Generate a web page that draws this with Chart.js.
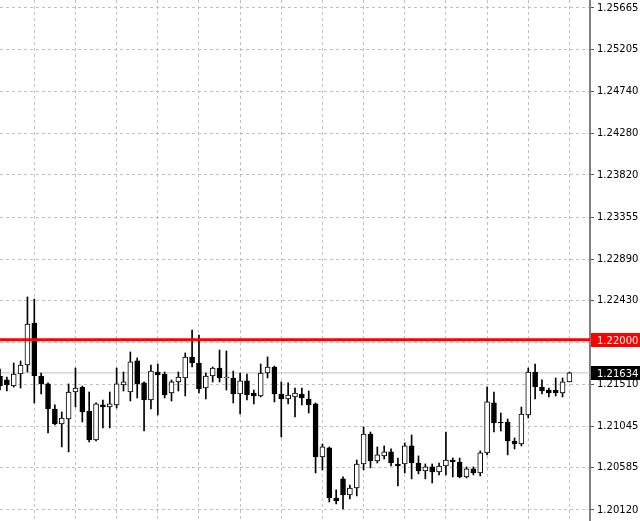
<!DOCTYPE html>
<html>
<head>
<meta charset="utf-8">
<script src="https://cdn.jsdelivr.net/npm/chart.js@4.4.0/dist/chart.umd.min.js"></script>
<style>
  html, body { margin: 0; padding: 0; background: #fff; }
  #wrap { width: 640px; height: 521px; }
</style>
</head>
<body>
<div id="wrap"><canvas id="chart" width="640" height="521"></canvas></div>
<script>
// candle data (oldest first)
const opens = [
  1.21600, 1.21556, 1.21489, 1.21622, 1.21721, 1.22185, 1.21600, 1.21512, 1.21235, 1.21070,
  1.21125, 1.21423, 1.21478, 1.21213, 1.20893, 1.21280, 1.21257, 1.21280, 1.21500, 1.21423,
  1.21766, 1.21523, 1.21335, 1.21644, 1.21622, 1.21412, 1.21534, 1.21578, 1.21810, 1.21743,
  1.21467, 1.21600, 1.21688, 1.21578, 1.21578, 1.21401, 1.21545, 1.21412, 1.21379, 1.21633,
  1.21699, 1.21401, 1.21346, 1.21368, 1.21401, 1.21346, 1.21291, 1.20705, 1.20805, 1.20252,
  1.20463, 1.20286, 1.20363, 1.20628, 1.20959, 1.20661, 1.20717, 1.20761, 1.20628, 1.20628,
  1.20827, 1.20639, 1.20551, 1.20595, 1.20540, 1.20606, 1.20672, 1.20650, 1.20485, 1.20573,
  1.20529, 1.20750, 1.21302, 1.21092, 1.21092, 1.20882, 1.20849, 1.21169, 1.21644, 1.21478,
  1.21445, 1.21445, 1.21412, 1.21534
];
const highs = [
  1.21677, 1.21589, 1.21743, 1.21766, 1.22473, 1.22450, 1.21633, 1.21523, 1.21280, 1.21202,
  1.21512, 1.21688, 1.21489, 1.21423, 1.21302, 1.21335, 1.21423, 1.21688, 1.21644, 1.21865,
  1.21799, 1.21534, 1.21721, 1.21732, 1.21644, 1.21556, 1.21644, 1.21854, 1.22108, 1.22053,
  1.21633, 1.21699, 1.21887, 1.21876, 1.21655, 1.21633, 1.21622, 1.21445, 1.21732, 1.21810,
  1.21710, 1.21534, 1.21523, 1.21467, 1.21467, 1.21434, 1.21302, 1.20849, 1.20816, 1.20341,
  1.20485, 1.20396, 1.20672, 1.21037, 1.20981, 1.20816, 1.20827, 1.20794, 1.20694, 1.20860,
  1.20948, 1.20717, 1.20628, 1.20628, 1.20639, 1.20981, 1.20694, 1.20694, 1.20595, 1.20595,
  1.20772, 1.21478, 1.21423, 1.21191, 1.21125, 1.20915, 1.21257, 1.21688, 1.21732, 1.21556,
  1.21467, 1.21578, 1.21578, 1.21644
];
const lows = [
  1.21445, 1.21434, 1.21478, 1.21467, 1.21644, 1.21302, 1.21401, 1.20970, 1.21059, 1.20816,
  1.20761, 1.21257, 1.21092, 1.20871, 1.20882, 1.21026, 1.21026, 1.21246, 1.21434, 1.21324,
  1.21357, 1.20992, 1.21235, 1.21169, 1.21357, 1.21324, 1.21434, 1.21379, 1.21699, 1.21412,
  1.21346, 1.21534, 1.21534, 1.21445, 1.21302, 1.21180, 1.21335, 1.21291, 1.21368, 1.21578,
  1.21313, 1.20926, 1.21291, 1.21147, 1.21280, 1.21191, 1.20529, 1.20562, 1.20208, 1.20186,
  1.20131, 1.20241, 1.20275, 1.20562, 1.20584, 1.20639, 1.20683, 1.20606, 1.20385, 1.20529,
  1.20463, 1.20518, 1.20463, 1.20418, 1.20507, 1.20507, 1.20485, 1.20474, 1.20474, 1.20507,
  1.20496, 1.20728, 1.20981, 1.20992, 1.20728, 1.20794, 1.20827, 1.21136, 1.21346, 1.21401,
  1.21368, 1.21379, 1.21368, 1.21534
];
const closes = [
  1.21489, 1.21500, 1.21622, 1.21721, 1.22174, 1.21600, 1.21512, 1.21235, 1.21070, 1.21136,
  1.21423, 1.21467, 1.21202, 1.20893, 1.21291, 1.21257, 1.21291, 1.21512, 1.21534, 1.21755,
  1.21512, 1.21335, 1.21655, 1.21611, 1.21390, 1.21534, 1.21589, 1.21810, 1.21743, 1.21456,
  1.21600, 1.21688, 1.21578, 1.21578, 1.21401, 1.21545, 1.21390, 1.21379, 1.21633, 1.21699,
  1.21401, 1.21346, 1.21390, 1.21412, 1.21357, 1.21280, 1.20705, 1.20816, 1.20252, 1.20219,
  1.20286, 1.20363, 1.20628, 1.20959, 1.20661, 1.20728, 1.20761, 1.20639, 1.20606, 1.20827,
  1.20639, 1.20551, 1.20595, 1.20540, 1.20606, 1.20672, 1.20650, 1.20485, 1.20573, 1.20529,
  1.20750, 1.21313, 1.21081, 1.21081, 1.20882, 1.20849, 1.21180, 1.21644, 1.21478, 1.21434,
  1.21412, 1.21412, 1.21534, 1.21634
];

// price scale labels on the right
const priceTicks = [1.25665, 1.25205, 1.24740, 1.24280, 1.23820, 1.23355, 1.22890,
                    1.22430, 1.21970, 1.21510, 1.21045, 1.20585, 1.20120];
// bars that carry a vertical grid line
const timeGridBars = [5, 11, 17, 23, 29, 35, 41, 47, 53, 59, 65, 71, 77, 83];

const levelPrice = 1.22000;   // red horizontal level
const bidPrice = 1.21634;     // current price line

const priceMin = 1.19998, priceMax = 1.25753;
const barSlots = 86;

Chart.defaults.font.family = '"DejaVu Sans", Tahoma, sans-serif';
Chart.defaults.font.size = 10;
Chart.defaults.color = '#000';

const barIdx = opens.map((_, i) => i);
const bodyColors = barIdx.map(i => closes[i] >= opens[i] ? '#ffffff' : '#000000');

function drawTag(ctx, chart, value, bg) {
  const scale = chart.scales.y;
  const y = Math.round(scale.getPixelForValue(value));
  const left = chart.chartArea.right + 1;
  ctx.save();
  ctx.fillStyle = bg;
  ctx.fillRect(left, y - 7, chart.width - left, 14);
  ctx.fillStyle = '#fff';
  ctx.font = '10px "DejaVu Sans", Tahoma, sans-serif';
  ctx.textBaseline = 'middle';
  ctx.textAlign = 'left';
  ctx.fillText(value.toFixed(5), left + 6, y + 1);
  ctx.restore();
}

function hLine(ctx, chart, value, color, width) {
  const y = chart.scales.y.getPixelForValue(value);
  const a = chart.chartArea;
  ctx.save();
  ctx.strokeStyle = color;
  ctx.lineWidth = width;
  ctx.beginPath();
  ctx.moveTo(a.left, y);
  ctx.lineTo(a.right, y);
  ctx.stroke();
  ctx.restore();
}

const priceLines = {
  id: 'priceLines',
  beforeDatasetsDraw(chart) {
    hLine(chart.ctx, chart, bidPrice, '#c0c0c0', 1);
  },
  afterDatasetsDraw(chart) {
    hLine(chart.ctx, chart, levelPrice, '#ff0000', 3);
  },
  afterDraw(chart) {
    drawTag(chart.ctx, chart, levelPrice, '#ff0000');
    drawTag(chart.ctx, chart, bidPrice, '#000000');
  }
};

new Chart(document.getElementById('chart'), {
  type: 'bar',
  data: {
    datasets: [
      {
        label: 'body',
        data: barIdx.map(i => ({ x: i, y: [opens[i], closes[i]] })),
        backgroundColor: bodyColors,
        borderColor: '#000',
        borderWidth: 1,
        borderSkipped: false,
        barThickness: 5,
        minBarLength: 1,
        grouped: false,
        order: 1
      },
      {
        label: 'wick',
        data: barIdx.map(i => ({ x: i, y: [lows[i], highs[i]] })),
        backgroundColor: '#000',
        borderWidth: 0,
        barThickness: 1,
        grouped: false,
        order: 2
      }
    ]
  },
  options: {
    responsive: false,
    animation: false,
    layout: { padding: 0 },
    plugins: { legend: { display: false }, tooltip: { enabled: false } },
    scales: {
      x: {
        type: 'linear',
        min: 0,
        max: barSlots,
        offset: false,
        grid: { color: '#c0c0c0', lineWidth: 1, offset: false, drawTicks: false },
        border: { display: false, dash: [3, 3] },
        ticks: { display: false },
        afterBuildTicks: s => { s.ticks = timeGridBars.map(v => ({ value: v })); },
        afterFit: s => { s.height = 0; s.paddingLeft = 0; s.paddingRight = 0; }
      },
      y: {
        type: 'linear',
        position: 'right',
        min: priceMin,
        max: priceMax,
        grid: { color: '#c0c0c0', lineWidth: 1, drawTicks: true, tickLength: 4, tickColor: '#555', tickWidth: 1 },
        border: { display: true, color: '#808080', width: 2, dash: [3, 3] },
        ticks: { padding: 3, color: '#000', callback: v => v.toFixed(5) },
        afterBuildTicks: s => { s.ticks = priceTicks.map(v => ({ value: v })); },
        afterFit: s => { s.width = 50; s.paddingTop = 0; s.paddingBottom = 0; }
      }
    }
  },
  plugins: [priceLines]
});
</script>
</body>
</html>
